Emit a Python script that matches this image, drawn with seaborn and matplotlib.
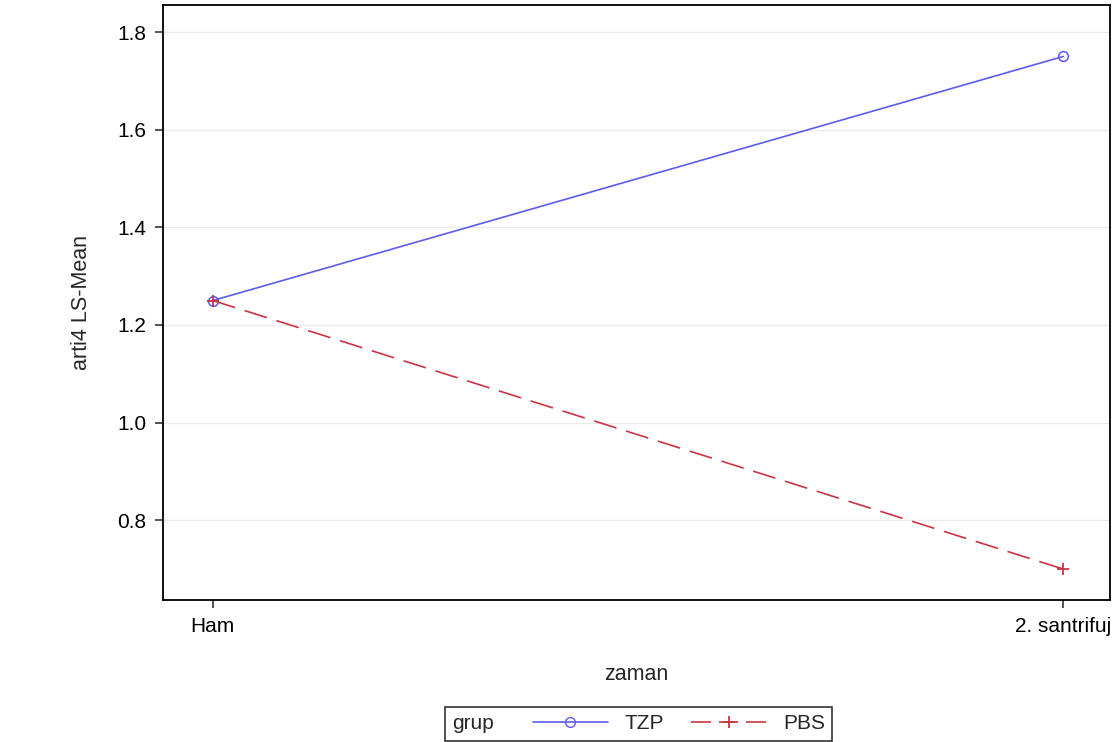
import matplotlib
matplotlib.use("Agg")
import matplotlib.pyplot as plt
from matplotlib.lines import Line2D
from matplotlib.offsetbox import HPacker
import pandas as pd
import seaborn as sns

zaman = ["Ham", "2. santrifuj"]
groups = ["TZP", "PBS"]
tzp_mean = [1.25, 1.75]
pbs_mean = [1.25, 0.70]
y_ticks = [0.8, 1.0, 1.2, 1.4, 1.6, 1.8]

df = pd.DataFrame({
    "zaman": zaman + zaman,
    "grup": ["TZP"] * 2 + ["PBS"] * 2,
    "mean": tzp_mean + pbs_mean,
})

sns.set_theme(style="white")
plt.rcParams["font.family"] = ["Liberation Sans", "DejaVu Sans"]

blue = "#5c5cf0"
red = "#cc3344"
fs = 15

fig = plt.figure(figsize=(11.15, 7.42), dpi=100)
ax = fig.add_axes([0.146, 0.191, 0.8495, 0.802])

sns.lineplot(data=df, x="zaman", y="mean", hue="grup", style="grup",
             hue_order=groups, style_order=groups,
             palette={"TZP": blue, "PBS": red},
             markers={"TZP": "o", "PBS": "P"},
             dashes={"TZP": "", "PBS": (14, 6)},
             linewidth=1.2, markersize=7, legend=False, ax=ax)

for ln in ax.lines:
    c = ln.get_color()
    if ln.get_marker() == "o":
        ln.set_markerfacecolor("none")
        ln.set_markeredgecolor(c)
        ln.set_markeredgewidth(1.1)
    else:
        ln.set_marker("+")
        ln.set_markeredgecolor(c)
        ln.set_markeredgewidth(1.3)
        ln.set_markersize(9)

ax.set_xlim(-0.0588, 1.055)
ax.set_ylim(0.636, 1.855)
ax.set_yticks(y_ticks)
ax.set_yticklabels([f"{v:.1f}" for v in y_ticks])
ax.yaxis.grid(True, color="#ebebeb", linewidth=1)
ax.xaxis.grid(False)
ax.set_axisbelow(True)

for s in ax.spines.values():
    s.set_color("black")
    s.set_linewidth(1.3)

ax.tick_params(axis="both", direction="out", length=6, width=1.3, color="#444444",
               labelsize=fs, labelcolor="black", pad=6, bottom=True, left=True)
ax.set_xlabel("zaman", fontsize=fs + 0.5, labelpad=20)
ax.set_ylabel("arti4 LS-Mean", fontsize=fs + 0.5, labelpad=18)

# legend: title "grup" on the left of the entries, like SAS
handles = [
    Line2D([], [], color=blue, lw=1.2, marker="o", mfc="none", mec=blue, ms=7),
    Line2D([], [], color=red, lw=1.2, ls=(0, (12, 4.8, 11.4, 4.8)),
           marker="+", mec=red, mew=1.3, ms=9),
]
leg = fig.legend(handles, groups, title="grup", title_fontsize=fs,
                 loc="lower center", bbox_to_anchor=(0.5727, 0.002), ncol=2,
                 frameon=True, fancybox=False, edgecolor="black", fontsize=fs,
                 handlelength=3.6, handletextpad=0.8, columnspacing=1.3,
                 borderpad=0.35, borderaxespad=0)
leg._legend_box = HPacker(pad=0.35 * fs, sep=28, align="center",
                          children=[leg._legend_title_box, leg._legend_handle_box])
leg._legend_box.set_figure(fig)
leg._legend_box.set_offset(leg._findoffset)
leg.get_frame().set_linewidth(1.2)

fig.savefig("out.png", dpi=100)
